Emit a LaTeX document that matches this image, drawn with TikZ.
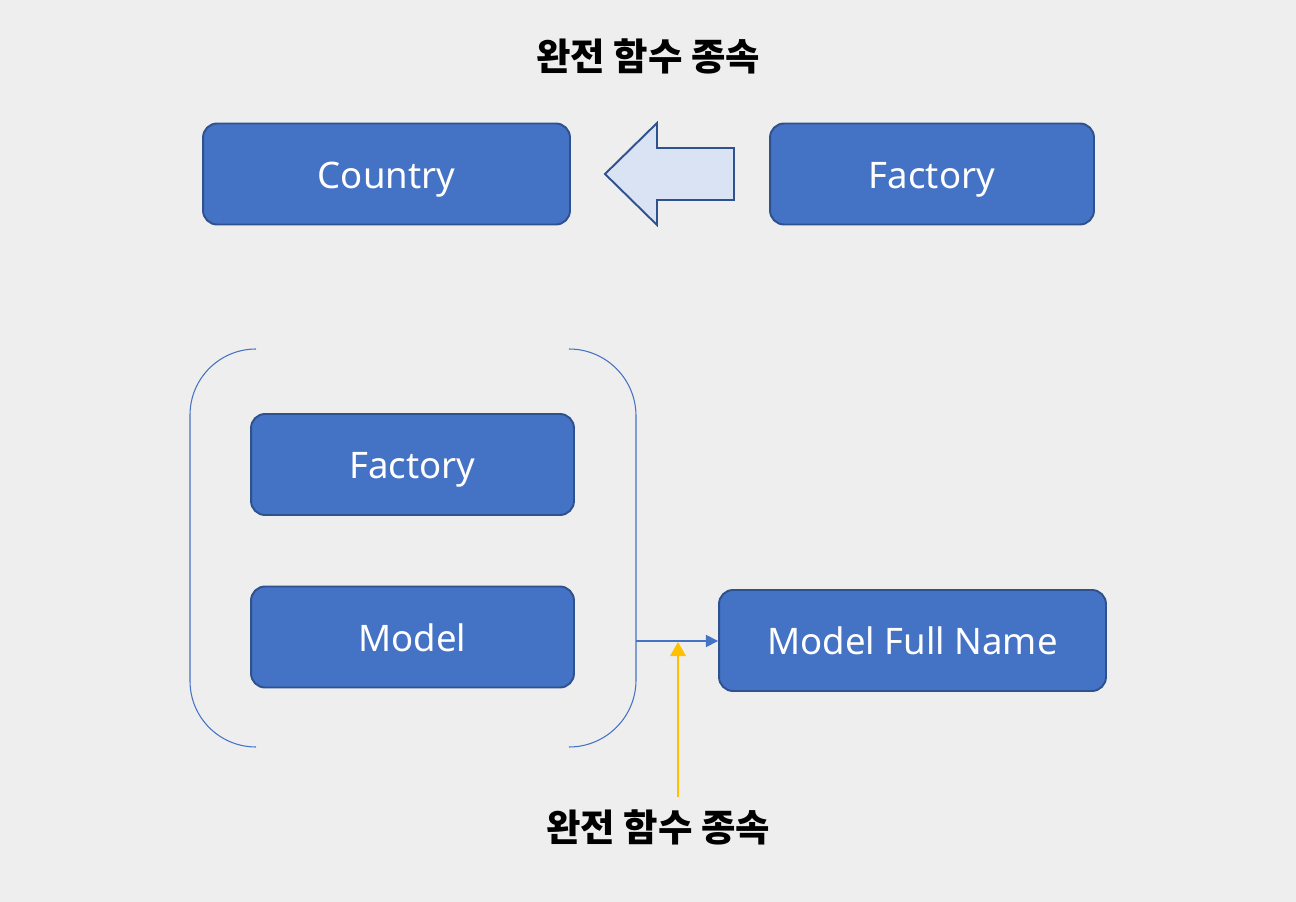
\documentclass[tikz,border=0pt]{standalone}
\usepackage{fontspec}
\setmainfont{Noto Sans}
\newfontfamily\krfont{Noto Sans CJK KR}
\usetikzlibrary{arrows.meta,positioning}
\definecolor{bgcol}{HTML}{EEEEEE}
\definecolor{boxfill}{HTML}{4472C4}
\definecolor{boxline}{HTML}{2F528F}
\definecolor{arrowfill}{HTML}{DAE3F3}
\definecolor{yellowline}{HTML}{FFC000}

\begin{document}
\begin{tikzpicture}[
    x=0.02cm, y=-0.02cm,
    entitynode/.style={draw=boxline, line width=1.1pt, fill=boxfill, rounded corners=0.28cm,
        minimum height=2.02cm, text=white, text height=0.66cm, text depth=0.08cm,
        font=\fontsize{20.8}{24}\selectfont},
    titlenode/.style={font=\krfont\bfseries\fontsize{21.3}{26}\selectfont, text=black},
    bracketline/.style={draw=boxfill, line width=0.6pt},
    depline/.style={draw=boxfill, line width=0.8pt, -{Triangle[length=7pt,width=7pt]}}
]
% Background
\fill[bgcol] (0,0) rectangle (1296,902);
\useasboundingbox (0,0) rectangle (1296,902);
% Top row
\node[titlenode] (toptitle) at (648,56) {완전 함수 종속};
\node[entitynode, minimum width=7.34cm] (country) at (386.5,174) {Country};
\node[entitynode, minimum width=6.48cm] (factorytop) at (932,174) {Factory};
% Block arrow
\filldraw[fill=arrowfill, draw=boxline, line width=1.1pt]
    (605,174) -- (657,123) -- (657,148) -- (734,148) -- (734,200) -- (657,200) -- (657,225) -- cycle;
% Composite key
\node[entitynode, minimum width=6.46cm] (factory) at (412.5,464.5) {Factory};
\node[entitynode, minimum width=6.46cm] (model) at (412.5,637) {Model};
\draw[bracketline] (256,349) arc[start angle=270, end angle=180, radius=66] -- (190,681)
    arc[start angle=180, end angle=90, radius=66];
\draw[bracketline] (569,349) arc[start angle=270, end angle=360, radius=67] -- (636,680)
    arc[start angle=0, end angle=90, radius=67];
\coordinate (keyright) at (636,641);
% Dependent attribute
\node[entitynode, minimum width=7.74cm] (fullname) at (912.5,640.5) {Model Full Name};
\draw[depline] (keyright) -- (fullname.west |- keyright);
\coordinate (deparrow) at (678,642);
% Bottom label
\node[titlenode] (bottomtitle) at (658,827) {완전 함수 종속};
\draw[draw=yellowline, line width=0.6pt, -{Triangle[length=8pt,width=9pt]}]
    (bottomtitle.north -| deparrow) ++(0,-6) -- (deparrow);
\end{tikzpicture}
\end{document}
